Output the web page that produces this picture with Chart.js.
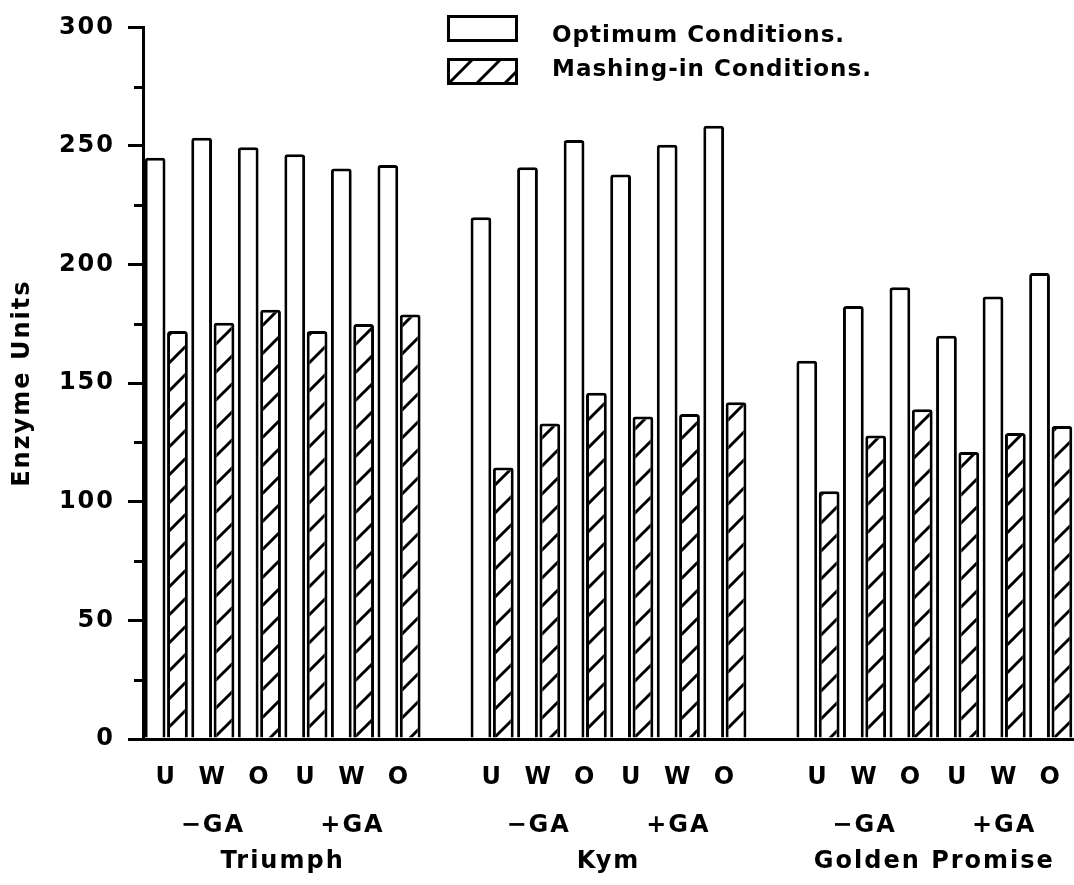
<!DOCTYPE html>
<html>
<head>
<meta charset="utf-8">
<title>Enzyme Units</title>
<script src="https://cdn.jsdelivr.net/npm/chart.js@4.4.0/dist/chart.umd.min.js"></script>
<style>
  html, body { margin: 0; padding: 0; background: #fff; }
  #chart { display: block; }
</style>
</head>
<body>
<canvas id="chart" width="1074" height="885"></canvas>
<script>
const varieties = ['Triumph', 'Kym', 'Golden Promise'];
const treatments = ['\u2212GA', '+GA'];
const steeps = ['U', 'W', 'O'];

// values: U W O (-GA) then U W O (+GA)
const optimumTriumph = [245, 253.5, 249.5, 246.5, 240.5, 242];
const optimumKym = [220, 241, 252.5, 238, 250.5, 258.5];
const optimumGolden = [159.5, 182.5, 190.5, 170, 186.5, 196.5];
const mashingTriumph = [172, 175.5, 181, 172, 175, 179];
const mashingKym = [114.5, 133, 146, 136, 137, 142];
const mashingGolden = [104.5, 128, 139, 121, 129, 132];

const seriesNames = ['Optimum Conditions.', 'Mashing-in Conditions.'];
const yTicks = [0, 50, 100, 150, 200, 250, 300];
const yMinorTicks = [25, 75, 125, 175, 225, 275];

// flat category list, one empty slot between varieties
const optimumSets = [optimumTriumph, optimumKym, optimumGolden];
const mashingSets = [mashingTriumph, mashingKym, mashingGolden];
const labels = [];
const treatmentLabels = [];
const optimum = [];
const mashing = [];
const varietyCentres = [];
varieties.forEach((name, g) => {
    if (g > 0) {
        labels.push('');
        treatmentLabels.push('');
        optimum.push(null);
        mashing.push(null);
    }
    const start = labels.length;
    treatments.forEach(t => {
        steeps.forEach((s, k) => {
            labels.push(s);
            treatmentLabels.push(k === 1 ? t : '');
        });
    });
    varietyCentres.push(start + (treatments.length * steeps.length) / 2);
    optimum.push(...optimumSets[g]);
    mashing.push(...mashingSets[g]);
});
// half-slot grid for the variety names (slot edges, offset off)
const varietyLabels = [];
for (let i = 0; i <= labels.length * 2; i++) {
    const at = varietyCentres.indexOf(i / 2);
    varietyLabels.push(at >= 0 ? varieties[at] : '');
}

Chart.defaults.font.family = '"DejaVu Sans", sans-serif';
Chart.defaults.font.weight = 'bold';
Chart.defaults.font.size = 24;
Chart.defaults.color = '#000';

const canvas = document.getElementById('chart');

function makeHatch() {
    const c = document.createElement('canvas');
    c.width = 28;
    c.height = 28;
    const g = c.getContext('2d');
    g.fillStyle = '#fff';
    g.fillRect(0, 0, 28, 28);
    g.strokeStyle = '#000';
    g.lineWidth = 3;
    g.beginPath();
    g.moveTo(-2, 30); g.lineTo(30, -2);
    g.moveTo(-2, 2); g.lineTo(2, -2);
    g.moveTo(26, 30); g.lineTo(30, 26);
    g.stroke();
    return canvas.getContext('2d').createPattern(c, 'repeat');
}
const hatch = makeHatch();

// wider letter spacing like the original lettering
const spacing = {
    id: 'spacing',
    beforeUpdate(chart) { chart.ctx.letterSpacing = '2px'; },
    beforeDraw(chart) { chart.ctx.letterSpacing = '2px'; }
};

const minorTicks = {
    id: 'minorTicks',
    afterDraw(chart) {
        const y = chart.scales.y;
        const ctx = chart.ctx;
        ctx.save();
        ctx.strokeStyle = '#000';
        ctx.lineWidth = 3;
        ctx.beginPath();
        yMinorTicks.forEach(v => {
            const py = Math.round(y.getPixelForValue(v)) + 0.5;
            ctx.moveTo(y.right - 9, py);
            ctx.lineTo(y.right, py);
        });
        ctx.stroke();
        ctx.restore();
    }
};

const boxLegend = {
    id: 'boxLegend',
    afterDraw(chart, args, opts) {
        const ctx = chart.ctx;
        ctx.save();
        ctx.font = 'bold 23px "DejaVu Sans"';
        ctx.letterSpacing = '1px';
        ctx.textBaseline = 'alphabetic';
        chart.data.datasets.forEach((ds, i) => {
            const top = opts.top + i * opts.rowStep;
            ctx.fillStyle = ds.backgroundColor;
            ctx.fillRect(opts.left, top, opts.boxWidth, opts.boxHeight);
            ctx.lineWidth = 3;
            ctx.strokeStyle = '#000';
            ctx.strokeRect(opts.left + 1.5, top + 1.5, opts.boxWidth - 3, opts.boxHeight - 3);
            ctx.fillStyle = '#000';
            ctx.fillText(ds.label, opts.left + opts.textGap, opts.baselines[i]);
        });
        ctx.restore();
    }
};

const hiddenGrid = gap => ({ display: false, drawTicks: true, tickLength: gap });

new Chart(canvas, {
    type: 'bar',
    data: {
        labels: labels,
        datasets: [
            {
                label: seriesNames[0],
                data: optimum,
                backgroundColor: '#fff',
                borderColor: '#000',
                borderWidth: 3,
                borderRadius: 3,
                categoryPercentage: 0.96,
                barPercentage: 0.93,
                xAxisID: 'x',
                yAxisID: 'y'
            },
            {
                label: seriesNames[1],
                data: mashing,
                backgroundColor: hatch,
                borderColor: '#000',
                borderWidth: 3,
                borderRadius: 3,
                categoryPercentage: 0.96,
                barPercentage: 0.93,
                xAxisID: 'x',
                yAxisID: 'y'
            }
        ]
    },
    options: {
        responsive: false,
        animation: false,
        events: [],
        layout: { padding: { top: 24, left: 0, right: 0, bottom: 0 } },
        plugins: {
            legend: { display: false },
            tooltip: { enabled: false },
            boxLegend: {
                left: 447, top: 15, rowStep: 43,
                boxWidth: 71, boxHeight: 27,
                textGap: 105, baselines: [42, 76]
            }
        },
        scales: {
            x: {
                type: 'category',
                position: 'bottom',
                offset: true,
                grid: hiddenGrid(24),
                border: { display: true, color: '#000', width: 3 },
                ticks: { padding: 0, autoSkip: false, maxRotation: 0 },
                afterFit: s => { s.height = 54; }
            },
            x2: {
                type: 'category',
                labels: treatmentLabels,
                position: 'bottom',
                weight: 1,
                offset: true,
                grid: hiddenGrid(18),
                border: { display: false },
                ticks: { padding: 0, autoSkip: false, maxRotation: 0 },
                afterFit: s => { s.height = 44; }
            },
            x3: {
                type: 'category',
                labels: varietyLabels,
                position: 'bottom',
                weight: 2,
                offset: false,
                grid: hiddenGrid(10),
                border: { display: false },
                ticks: { padding: 0, autoSkip: false, maxRotation: 0 },
                afterFit: s => { s.height = 48; }
            },
            y: {
                position: 'left',
                min: 0,
                max: 300,
                grid: { drawOnChartArea: false, drawTicks: true, tickLength: 15, lineWidth: 3, color: '#000' },
                border: { display: true, color: '#000', width: 3 },
                ticks: { padding: 13 },
                afterBuildTicks: s => { s.ticks = yTicks.map(v => ({ value: v })); },
                title: {
                    display: true,
                    text: 'Enzyme Units',
                    padding: { top: 8, bottom: 0 }
                },
                afterFit: s => { s.width = 143; }
            }
        }
    },
    plugins: [spacing, minorTicks, boxLegend]
});
</script>
</body>
</html>
